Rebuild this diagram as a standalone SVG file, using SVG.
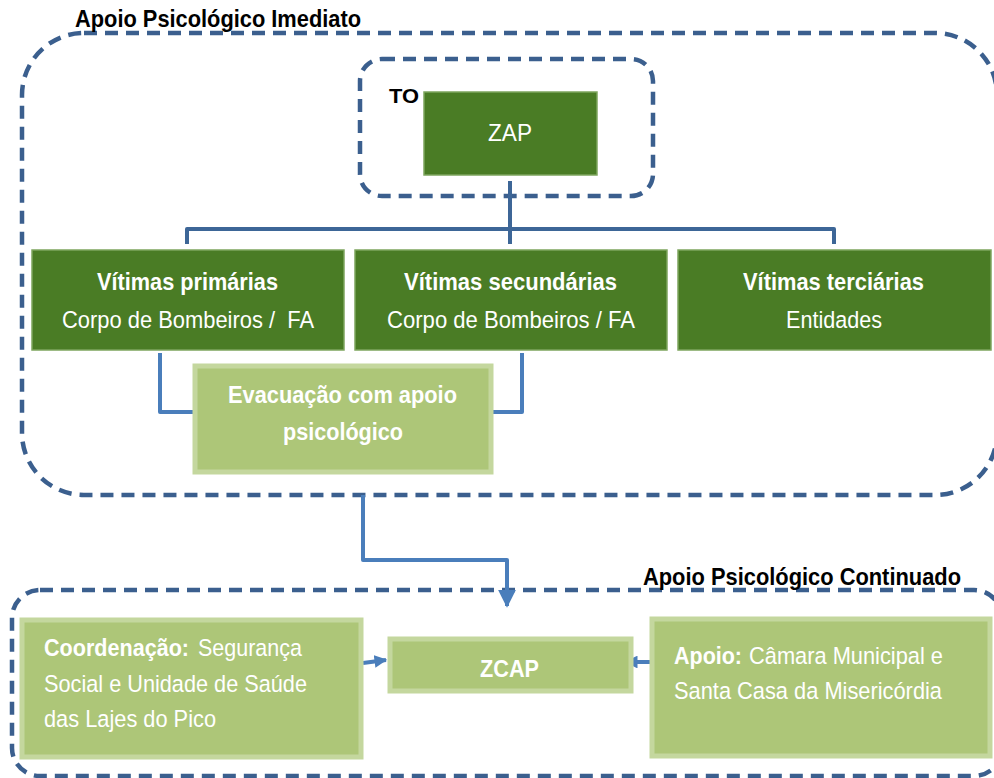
<svg xmlns="http://www.w3.org/2000/svg" width="994" height="778" viewBox="0 0 994 778">
<defs>
<style>
.dash{fill:none;stroke:#3b5f8e;stroke-width:4.5;stroke-dasharray:13 8}
.dk{fill:#4a7c25;stroke:#7ea55e;stroke-width:1.5}
.lt{fill:#adc678;stroke:#c4d79e;stroke-width:5}
.t{font-family:"Liberation Sans",Arial,sans-serif;fill:#fff;font-size:24.5px}
.b{font-weight:bold}
.h{font-family:"Liberation Sans",Arial,sans-serif;fill:#000;font-size:24px;font-weight:bold}
.c1{fill:none;stroke:#3d6697;stroke-width:4;stroke-linejoin:round}
.c2{fill:none;stroke:#4a7ebb;stroke-width:4;stroke-linejoin:round}
</style>
<marker id="ah" viewBox="0 0 10 10" refX="9" refY="5" markerWidth="4.5" markerHeight="4.5" orient="auto" markerUnits="strokeWidth">
<path d="M0,0 L10,5 L0,10 Z" fill="#4a7ebb"/>
</marker>
<marker id="ah2" viewBox="0 0 10 10" refX="9" refY="5" markerWidth="3.2" markerHeight="3.2" orient="auto" markerUnits="strokeWidth">
<path d="M0,0 L10,5 L0,10 Z" fill="#4a7ebb"/>
</marker>
</defs>

<g id="group-immediate">
<rect class="dash" x="22" y="33" width="975" height="462" rx="62"/>
<text class="h" x="75" y="27" textLength="286" lengthAdjust="spacingAndGlyphs">Apoio Psicológico Imediato</text>
</g>
<g id="group-to">
<rect class="dash" x="360" y="59" width="293" height="137" rx="22"/>
<text class="h" x="389" y="103" textLength="30" lengthAdjust="spacingAndGlyphs" style="font-size:21px">TO</text>
</g>
<g id="group-continued">
<rect class="dash" x="12" y="590" width="990" height="186" rx="28"/>
<text class="h" x="643" y="585" textLength="318" lengthAdjust="spacingAndGlyphs">Apoio Psicológico Continuado</text>
</g>

<g id="connectors">
<path class="c1" d="M510,181 V244"/>
<path class="c1" d="M187,244 V229 H834 V244"/>
<path class="c2" d="M160,353 V412 H195"/>
<path class="c2" d="M522,353 V412 H491"/>
<path class="c2" d="M363,495 V560 H507 V606" marker-end="url(#ah)"/>
<path class="c2" d="M363,663 L386,660" marker-end="url(#ah2)"/>
<path class="c2" d="M652,662 L626,662" marker-end="url(#ah2)"/>
</g>

<g id="node-zap">
<rect class="dk" x="424" y="92" width="173" height="83"/>
<text class="t" x="488" y="141" textLength="44" lengthAdjust="spacingAndGlyphs" style="font-size:23px">ZAP</text>
</g>
<g id="node-primarias">
<rect class="dk" x="32" y="250" width="312" height="100"/>
<text class="t b" x="97" y="290" textLength="181" lengthAdjust="spacingAndGlyphs">Vítimas primárias</text>
<text class="t" x="62" y="328" textLength="252" lengthAdjust="spacingAndGlyphs" xml:space="preserve">Corpo de Bombeiros /  FA</text>
</g>
<g id="node-secundarias">
<rect class="dk" x="355" y="250" width="312" height="100"/>
<text class="t b" x="404" y="290" textLength="213" lengthAdjust="spacingAndGlyphs">Vítimas secundárias</text>
<text class="t" x="387" y="328" textLength="248" lengthAdjust="spacingAndGlyphs">Corpo de Bombeiros / FA</text>
</g>
<g id="node-terciarias">
<rect class="dk" x="678" y="250" width="313" height="100"/>
<text class="t b" x="743" y="290" textLength="181" lengthAdjust="spacingAndGlyphs">Vítimas terciárias</text>
<text class="t" x="786" y="328" textLength="96" lengthAdjust="spacingAndGlyphs">Entidades</text>
</g>
<g id="node-evacuacao">
<rect class="lt" x="195" y="366" width="296" height="106"/>
<text class="t b" x="228" y="403" textLength="229" lengthAdjust="spacingAndGlyphs">Evacuação com apoio</text>
<text class="t b" x="283" y="440" textLength="120" lengthAdjust="spacingAndGlyphs">psicológico</text>
</g>
<g id="node-coordenacao">
<rect class="lt" x="22" y="620" width="339" height="137"/>
<text class="t b" x="44" y="656" textLength="145" lengthAdjust="spacingAndGlyphs">Coordenação:</text>
<text class="t" x="198" y="656" textLength="104" lengthAdjust="spacingAndGlyphs">Segurança</text>
<text class="t" x="44" y="692" textLength="263" lengthAdjust="spacingAndGlyphs">Social e Unidade de Saúde</text>
<text class="t" x="44" y="727" textLength="172" lengthAdjust="spacingAndGlyphs">das Lajes do Pico</text>
</g>
<g id="node-zcap">
<rect class="lt" x="390" y="639" width="241" height="52"/>
<text class="t b" x="480" y="677" textLength="59" lengthAdjust="spacingAndGlyphs">ZCAP</text>
</g>
<g id="node-apoio">
<rect class="lt" x="652" y="619" width="338" height="137"/>
<text class="t b" x="674" y="664" textLength="68" lengthAdjust="spacingAndGlyphs">Apoio:</text>
<text class="t" x="749" y="664" textLength="194" lengthAdjust="spacingAndGlyphs">Câmara Municipal e</text>
<text class="t" x="674" y="699" textLength="268" lengthAdjust="spacingAndGlyphs">Santa Casa da Misericórdia</text>
</g>
</svg>
